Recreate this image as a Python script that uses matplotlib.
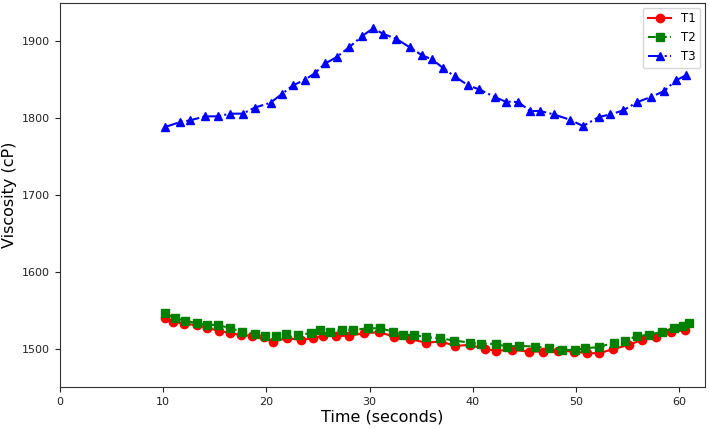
import matplotlib
matplotlib.use("Agg")
import matplotlib.pyplot as plt

# T1 (red, circles)
t1_time = [10.18, 10.98, 12.05, 13.26, 14.29, 15.37, 16.50, 17.55, 18.62, 19.75,
           20.66, 21.96, 23.39, 24.56, 25.53, 26.73, 27.96, 29.48, 30.94, 32.35,
           33.87, 35.49, 36.88, 38.32, 39.71, 41.17, 42.21, 43.84, 45.45, 46.76,
           48.25, 49.78, 51.07, 52.27, 53.57, 55.13, 56.36, 57.79, 59.18, 60.58]
t1_visc = [1539.5, 1535.1, 1532.1, 1530.8, 1526.5, 1523.4, 1520.0, 1517.8, 1516.5, 1514.8,
           1509.1, 1513.5, 1511.3, 1513.5, 1516.5, 1516.5, 1516.5, 1520.0, 1521.3, 1515.6,
           1512.2, 1507.8, 1509.1, 1503.5, 1504.8, 1499.2, 1497.4, 1498.3, 1496.1, 1496.1,
           1497.4, 1496.1, 1494.0, 1494.0, 1499.2, 1504.8, 1511.3, 1514.8, 1521.3, 1524.3]

# T2 (green, squares)
t2_time = [10.18, 11.15, 12.12, 13.26, 14.24, 15.27, 16.50, 17.64, 18.94, 19.91,
           20.89, 21.86, 23.06, 24.29, 25.20, 26.14, 27.28, 28.35, 29.87, 31.04,
           32.25, 33.22, 34.29, 35.49, 36.79, 38.19, 39.71, 40.78, 42.24, 43.28,
           44.48, 46.04, 47.34, 48.64, 49.93, 50.85, 52.21, 53.67, 54.74, 55.94,
           57.08, 58.37, 59.51, 60.32, 60.97]
t2_visc = [1546.0, 1539.5, 1536.4, 1533.0, 1530.8, 1530.8, 1526.5, 1522.1, 1518.7, 1516.5,
           1516.9, 1518.7, 1517.8, 1520.0, 1524.3, 1521.3, 1524.3, 1524.3, 1526.5, 1526.5,
           1522.1, 1517.8, 1517.8, 1514.8, 1513.5, 1510.4, 1507.8, 1506.1, 1506.1, 1502.6,
           1503.5, 1502.6, 1500.5, 1498.3, 1498.3, 1500.5, 1501.8, 1507.8, 1510.4, 1516.5,
           1517.8, 1522.1, 1526.5, 1529.5, 1533.8]

# T3 (blue, triangles)
t3_time = [10.18, 11.64, 12.61, 14.07, 15.27, 16.50, 17.70, 18.87, 20.40, 21.54,
           22.57, 23.74, 24.71, 25.71, 26.80, 28.03, 29.26, 30.36, 31.28, 32.57,
           33.87, 35.10, 36.08, 37.12, 38.25, 39.55, 40.62, 42.14, 43.18, 44.42,
           45.55, 46.52, 47.83, 49.39, 50.68, 52.21, 53.34, 54.58, 55.94, 57.24,
           58.54, 59.67, 60.64]
t3_visc = [1788.5, 1795.0, 1797.2, 1802.4, 1802.4, 1805.9, 1805.9, 1813.7, 1820.2, 1831.9,
           1842.7, 1850.1, 1858.7, 1871.3, 1879.5, 1892.5, 1906.8, 1917.2, 1909.9, 1903.4,
           1892.5, 1881.7, 1876.5, 1865.2, 1854.4, 1842.7, 1837.5, 1827.5, 1821.5, 1821.0,
           1809.3, 1809.3, 1805.0, 1798.1, 1789.8, 1801.5, 1805.0, 1810.2, 1821.0, 1827.5,
           1835.3, 1849.2, 1855.7]

x_ticks = [0, 10, 20, 30, 40, 50, 60]
y_ticks = [1500, 1600, 1700, 1800, 1900]

fig = plt.figure(figsize=(7.09, 4.29), dpi=100)
ax = fig.add_axes([0.0846, 0.098, 0.9098, 0.895])

ax.plot(t1_time, t1_visc, color="red", linestyle="-", marker="o", markersize=6, linewidth=1.5, label="T1")
ax.plot(t2_time, t2_visc, color="green", linestyle="--", marker="s", markersize=6, linewidth=1.5, label="T2")
ax.plot(t3_time, t3_visc, color="blue", linestyle="-.", marker="^", markersize=6, linewidth=1.5, label="T3")

ax.set_xlim(0, 62.5)
ax.set_ylim(1450, 1950)
ax.set_xticks(x_ticks)
ax.set_yticks(y_ticks)
ax.tick_params(labelsize=8, colors="#222222")
for s in ax.spines.values():
    s.set_color("#333333")
ax.set_xlabel("Time (seconds)", fontsize=11.5, labelpad=2)
ax.set_ylabel("Viscosity (cP)", fontsize=11.5, labelpad=4)
ax.legend(loc="upper right", fontsize=8.5, borderaxespad=0.4)

fig.savefig("out.png", dpi=100)
